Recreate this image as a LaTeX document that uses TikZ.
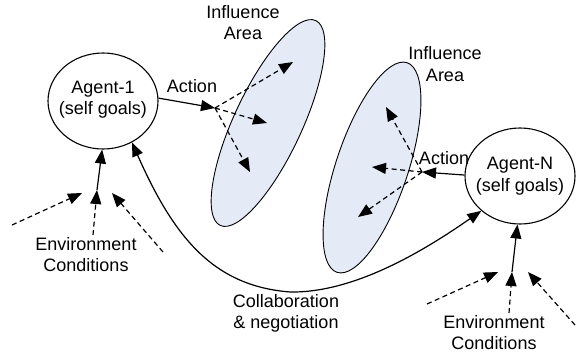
\documentclass[tikz,border=0pt]{standalone}
\usepackage{fontspec}
\setmainfont{Liberation Sans}
\usetikzlibrary{arrows.meta,shapes.geometric}
\definecolor{zonefill}{RGB}{228,234,246}
\tikzset{head/.tip={Triangle[length=14pt,width=11pt]}}
\begin{document}
\begin{tikzpicture}[x=1pt,y=-1pt,
  lbl/.style={font=\fontsize{18}{21.5}\selectfont, align=center, inner sep=0pt},
  agent/.style={draw, ellipse, line width=1.1pt, minimum width=110pt, minimum height=96pt, inner sep=0pt},
  zone/.style={draw, ellipse, fill=zonefill, line width=0.9pt, inner sep=0pt},
  tip/.style={-{head}},
  link/.style={tip, line width=1.2pt},
  effect/.style={tip, line width=1.2pt, dash pattern=on 5pt off 3.5pt}]
\useasboundingbox (0,0) rectangle (577,356);

% influence areas
\node[zone, rotate=65, minimum width=226pt, minimum height=68pt] (z1) at (268,123) {};
\node[zone, rotate=71.5, minimum width=221pt, minimum height=72pt] (z2) at (372,167.5) {};

% agents
\node[agent] (a1) at (103,101) {};
\node[lbl] (a1t) at (103,99.5) {Agent-1\\(self goals)};
\node[agent] (an) at (520,176) {};
\node[lbl] (ant) at (520,176) {Agent-N\\(self goals)};

% labels
\node[lbl] (z1t) at (243,22.5) {Influence\\Area};
\node[lbl] (z2t) at (445,64) {Influence\\Area};
\node[lbl, anchor=base] (act1t) at (192,92) {Action};
\node[lbl, anchor=base] (act2t) at (444,164) {Action};
\node[lbl] (env1t) at (86,254.5) {Environment\\Conditions};
\node[lbl] (env2t) at (494,332.5) {Environment\\Conditions};
\node[lbl] (colt) at (286,313.5) {Collaboration\\\& negotiation};

% action points and effect targets
\coordinate (act1) at (215,108);
\coordinate (e11) at (293,62);
\coordinate (e12) at (267,123);
\coordinate (e13) at (250,172);
\coordinate (act2) at (422,172);
\coordinate (e21) at (386,107);
\coordinate (e22) at (372,167);
\coordinate (e23) at (358,217);

\draw[link] (a1.3) -- (act1);
\draw[effect] (act1) -- (e11);
\draw[effect] (act1) -- (e12);
\draw[effect] (act1) -- (e13);

\draw[link] (an.179) -- (act2);
\draw[effect] (act2) -- (e21);
\draw[effect] (act2) -- (e22);
\draw[effect] (act2) -- (e23);

% environment inputs, Agent-1
\coordinate (in1) at (97,190);
\coordinate (s11) at (12,225);
\coordinate (t11) at (82,193);
\coordinate (s12) at (93,235);
\coordinate (s13) at (163,252);
\coordinate (t13) at (112,193);
\draw[effect] (s11) -- (t11);
\draw[effect] (s12) -- (in1);
\draw[effect] (s13) -- (t13);
\draw[link] (in1) -- (a1.-91);

% environment inputs, Agent-N
\coordinate (in2) at (512,272);
\coordinate (s21) at (427,304);
\coordinate (t21) at (498,272);
\coordinate (s22) at (509,313);
\coordinate (s23) at (575,325);
\coordinate (t23) at (528,272);
\draw[effect] (s21) -- (t21);
\draw[effect] (s22) -- (in2);
\draw[effect] (s23) -- (t23);
\draw[link] (in2) -- (an.-93);

% collaboration between the agents
\coordinate (low) at (290,292);
\draw[line width=1.2pt, {head}-{head}]
  (a1.-55) .. controls (175,240) and (215,286) .. (low)
  .. controls (355,293) and (425,250) .. (an.222);
\end{tikzpicture}
\end{document}
